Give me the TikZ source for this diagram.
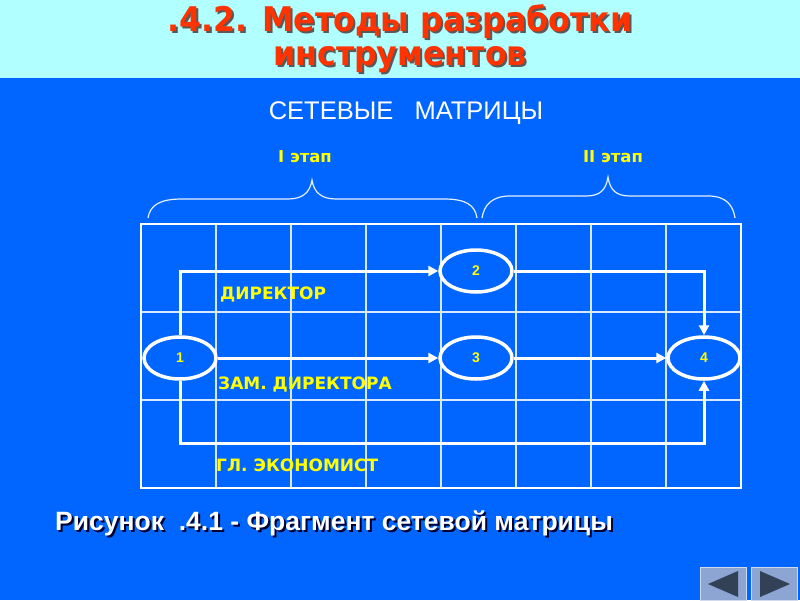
\documentclass[tikz,border=0pt]{standalone}
\usepackage{fontspec}
\setmainfont{Liberation Sans}
\newfontfamily\dvfont{DejaVu Sans}
\usetikzlibrary{arrows.meta,shapes.geometric}
\definecolor{bgblue}{RGB}{0,102,255}
\definecolor{headcyan}{RGB}{178,255,255}
\definecolor{titlered}{RGB}{255,51,0}
\definecolor{lbl}{RGB}{255,255,0}
\definecolor{navfill}{RGB}{140,165,210}
\definecolor{navtri}{RGB}{50,65,85}
\tikzset{
  evnode/.style={ellipse, draw=white, line width=3.5pt, fill=bgblue, minimum width=72pt, minimum height=42pt, inner sep=0pt, text=lbl, font=\fontsize{14}{16}\selectfont\bfseries},
  conn/.style={draw=white, line width=3pt, -{Triangle[length=10pt,width=10pt]}},
  rolelbl/.style={anchor=west, text=lbl, font=\dvfont\fontsize{17}{19}\selectfont\bfseries, inner sep=0pt},
  stagelbl/.style={text=lbl, font=\dvfont\fontsize{16.5}{18}\selectfont\bfseries, inner sep=0pt},
  gridline/.style={draw=white!85!bgblue, line width=1.2pt},
  bracel/.style={draw=white!90!bgblue, line width=1.2pt},
  titlefont/.style={font=\dvfont\fontsize{34}{34}\selectfont\bfseries, align=center, inner sep=0pt},
  capfont/.style={anchor=west, font=\fontsize{26.5}{28}\selectfont\bfseries, inner sep=0pt},
}
\begin{document}
\begin{tikzpicture}[x=1pt,y=-1pt]
\useasboundingbox (0,0) rectangle (800,600);
\fill[bgblue] (0,0) rectangle (800,600);
\fill[headcyan] (0,0) rectangle (800,78);
% title
\node[titlefont, text=black!65] (titlesh) at (402,41)
  {\scalebox{0.93}[1]{.4.2. Методы разработки}\\\scalebox{0.93}[1]{инструментов}};
\node[titlefont, text=titlered] (title) at (400,39)
  {\scalebox{0.93}[1]{.4.2. Методы разработки}\\\scalebox{0.93}[1]{инструментов}};
% subtitle
\node[text=white, font=\fontsize{25.5}{27}\selectfont, inner sep=0pt] (sub) at (406,113) {СЕТЕВЫЕ\ \ \ МАТРИЦЫ};
\node[stagelbl] (st1) at (305,157) {I этап};
\node[stagelbl] (st2) at (613,157) {II этап};
% braces
\draw[bracel] (148,218) .. controls (150,205) and (160,199) .. (182,199) -- (288,199)
  .. controls (302,199) and (310,193) .. (312,180)
  .. controls (314,193) and (322,199) .. (336,199) -- (444,199)
  .. controls (466,199) and (475,205) .. (477,218);
\draw[bracel] (482,218) .. controls (484,205) and (492,196) .. (510,196) -- (586,196)
  .. controls (600,196) and (606,190) .. (608,177)
  .. controls (610,190) and (616,196) .. (630,196) -- (708,196)
  .. controls (726,196) and (733,205) .. (735,218);
% grid
\foreach \x in {216,291,366,441,516,591,666} \draw[gridline] (\x,224) -- (\x,488);
\foreach \y in {312,400} \draw[gridline] (141,\y) -- (741,\y);
\draw[white, line width=2.5pt] (141,224) rectangle (741,488);
% nodes
\node[evnode] (n1) at (180,358) {1};
\node[evnode] (n2) at (476,271) {2};
\node[evnode] (n3) at (476,358) {3};
\node[evnode] (n4) at (704,358) {4};
\coordinate (bot) at (180,443);
% connectors
\draw[conn] (n1.north) |- (n2.west);
\draw[conn] (n2.east) -| (n4.north);
\draw[conn] (n1.east) -- (n3.west);
\draw[conn] (n3.east) -- (n4.west);
\draw[conn] (n1.south) -- (bot) -| (n4.south);
% labels
\node[rolelbl] (l1) at (220,295) {ДИРЕКТОР};
\node[rolelbl] (l2) at (218,385) {ЗАМ. ДИРЕКТОРА};
\node[rolelbl] (l3) at (216,465) {ГЛ. ЭКОНОМИСТ};
% caption
\node[capfont, text=black!80!blue] (capsh) at (57,525) {Рисунок\ \ .4.1 - Фрагмент сетевой матрицы};
\node[capfont, text=white] (cap) at (55,523) {Рисунок\ \ .4.1 - Фрагмент сетевой матрицы};
% nav buttons
\node[draw=white!60!navfill, fill=navfill, minimum width=46pt, minimum height=33pt, inner sep=0pt] (btl) at (723,584) {};
\node[draw=white!60!navfill, fill=navfill, minimum width=46pt, minimum height=33pt, inner sep=0pt] (btr) at (774,584) {};
\fill[navtri] (708,584) -- (738,571) -- (738,597) -- cycle;
\fill[navtri] (790,584) -- (760,571) -- (760,597) -- cycle;
\end{tikzpicture}
\end{document}
